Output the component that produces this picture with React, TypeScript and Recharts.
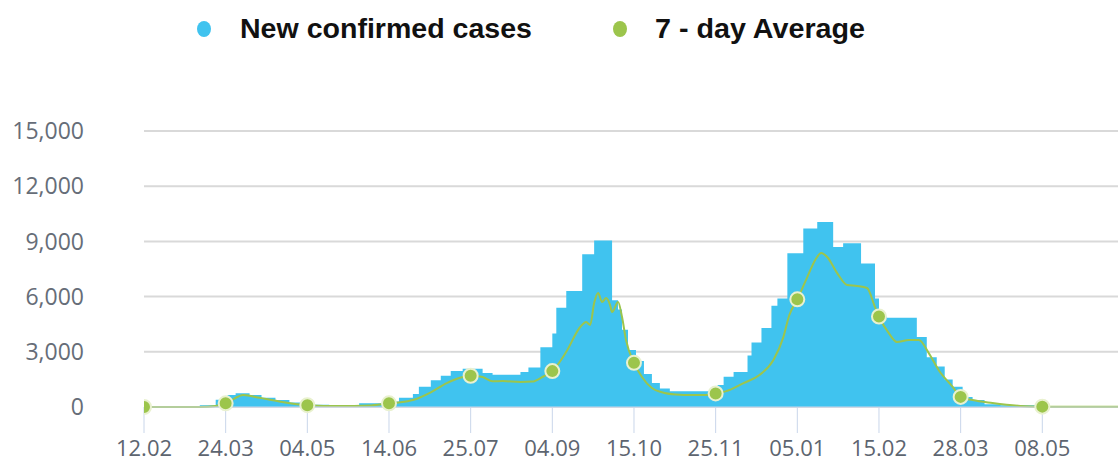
import { ComposedChart, Area, Line, XAxis, YAxis, CartesianGrid } from 'recharts';

// day 0 = 12.02; cases drawn as steps starting at each listed day
const caseDays = [
  0, 28, 36, 42, 46, 53, 59, 66, 73, 81, 93, 108, 123, 128, 135, 138, 144, 149, 154, 160,
  170, 175, 189, 193, 199, 205, 207, 212, 220, 226, 235, 238, 240, 243, 247, 251, 255, 259,
  264, 288, 291, 296, 303, 305, 310, 315, 318, 323, 331, 338, 346, 351, 360, 367, 369, 373,
  388, 393, 398, 402, 406, 411, 416, 422, 430, 450, 460, 489,
];
const caseValues = [
  0, 100, 400, 650, 750, 650, 500, 380, 250, 120, 100, 200, 300, 500, 700, 1100, 1450, 1700, 1950, 2080,
  1850, 1750, 1900, 2150, 3250, 4000, 5400, 6300, 8300, 9050, 5800, 5300, 4200, 3100, 2500, 1800, 1300, 1000,
  850, 1200, 1650, 1900, 2800, 3500, 4300, 5500, 5900, 8350, 9700, 10050, 8700, 8900, 7800, 5900, 4900, 4850,
  3800, 2700, 2200, 1500, 1100, 550, 380, 150, 100, 50, 30, 30,
];

const avgDays = [
  0, 28, 36, 41, 50, 58, 68, 82, 98, 113, 123, 128, 135, 144, 152, 159, 164, 170, 175, 180,
  189, 195, 200, 205, 212, 219, 222, 224, 226, 228, 230, 232, 234, 235, 238, 240, 242, 246,
  250, 255, 260, 267, 275, 282, 287, 292, 301, 309, 316, 321, 324, 328, 333, 337, 340, 343,
  348, 353, 358, 363, 367, 369, 374, 378, 384, 389, 394, 399, 406, 410, 416, 426, 440, 451, 489,
];
const avgValues = [
  0, 0, 60, 200, 650, 500, 300, 100, 50, 80, 200, 250, 380, 800, 1300, 1600, 1700, 1630, 1400, 1410,
  1360, 1380, 1630, 1950, 3000, 4350, 4620, 4460, 5650, 6200, 5700, 5920, 5540, 5160, 5700, 4890, 3640, 2400,
  1630, 1030, 800, 680, 650, 650, 740, 850, 1300, 1740, 2550, 3800, 5000, 5850, 7060, 7990, 8370, 8150,
  7280, 6630, 6580, 6470, 5430, 4920, 4000, 3530, 3640, 3640, 2930, 2000, 1090, 550, 380, 220, 60, 20, 10,
];

const tickDays = [0, 41, 82, 123, 164, 205, 246, 287, 328, 369, 410, 451];
const tickLabels = ['12.02', '24.03', '04.05', '14.06', '25.07', '04.09', '15.10', '25.11', '05.01', '15.02', '28.03', '08.05'];
const yTicks = [0, 3000, 6000, 9000, 12000, 15000];

const BLUE = '#40c3ef';
const GREEN = '#9cc54c';

const casesData = caseDays.map((day, i) => ({ day, cases: caseValues[i] }));
const avgData = avgDays.map((day, i) => ({ day, avg: avgValues[i] }));

const renderDot = (props: any) => {
  const { cx, cy, payload, index } = props;
  if (!tickDays.includes(payload.day)) return <g key={`d-${index}`} />;
  return <circle key={`d-${index}`} cx={cx} cy={cy} r={7} fill={GREEN} stroke="#e9f1cf" strokeWidth={2} />;
};

function LegendBar() {
  return (
    <svg width={1118} height={60} style={{ position: 'absolute', left: 0, top: 0 }}>
      <ellipse cx={204} cy={29} rx={7} ry={8} fill={BLUE} />
      <text x={240} y={38} fontSize={28} fontWeight="bold" fill="#111"
        fontFamily="'Liberation Sans Narrow', 'Liberation Sans', sans-serif"
        textLength={292} lengthAdjust="spacingAndGlyphs">New confirmed cases</text>
      <ellipse cx={620} cy={29} rx={7} ry={8} fill={GREEN} />
      <text x={655} y={38} fontSize={28} fontWeight="bold" fill="#111"
        fontFamily="'Liberation Sans Narrow', 'Liberation Sans', sans-serif"
        textLength={210} lengthAdjust="spacingAndGlyphs">7 - day Average</text>
    </svg>
  );
}

export default function App() {
  return (
    <div style={{ position: 'absolute', left: 0, top: 0, width: 1118, height: 465, background: '#fff' }}>
      <ComposedChart width={1118} height={465} margin={{ top: 131, right: 0, left: 0, bottom: 0 }}>
        <CartesianGrid vertical={false} stroke="#d9d9d9" strokeWidth={2} />
        <XAxis
          dataKey="day"
          type="number"
          domain={[0, 489]}
          ticks={tickDays}
          tickFormatter={(v: number) => tickLabels[tickDays.indexOf(v)]}
          height={58}
          axisLine={{ stroke: '#ccd6eb' }}
          tickLine={{ stroke: '#c9d6ea' }}
          tickSize={26}
          tickMargin={7}
          tick={{ fill: '#5d6570', fontSize: 22, fontFamily: 'Open Sans' }}
          allowDataOverflow
        />
        <YAxis
          domain={[0, 15000]}
          ticks={yTicks}
          width={144}
          axisLine={false}
          tickLine={false}
          tickSize={0}
          tickMargin={60}
          tickFormatter={(v: number) => v.toLocaleString('en-US')}
          tick={{ fill: '#666d78', fontSize: 23, fontFamily: 'Open Sans' }}
        />
        <Area
          data={casesData}
          dataKey="cases"
          type="stepAfter"
          fill={BLUE}
          fillOpacity={1}
          stroke="none"
          isAnimationActive={false}
        />
        <Line
          data={avgData}
          dataKey="avg"
          type="monotone"
          stroke={GREEN}
          strokeWidth={2}
          dot={renderDot}
          activeDot={false}
          isAnimationActive={false}
        />
      </ComposedChart>
      <LegendBar />
    </div>
  );
}
